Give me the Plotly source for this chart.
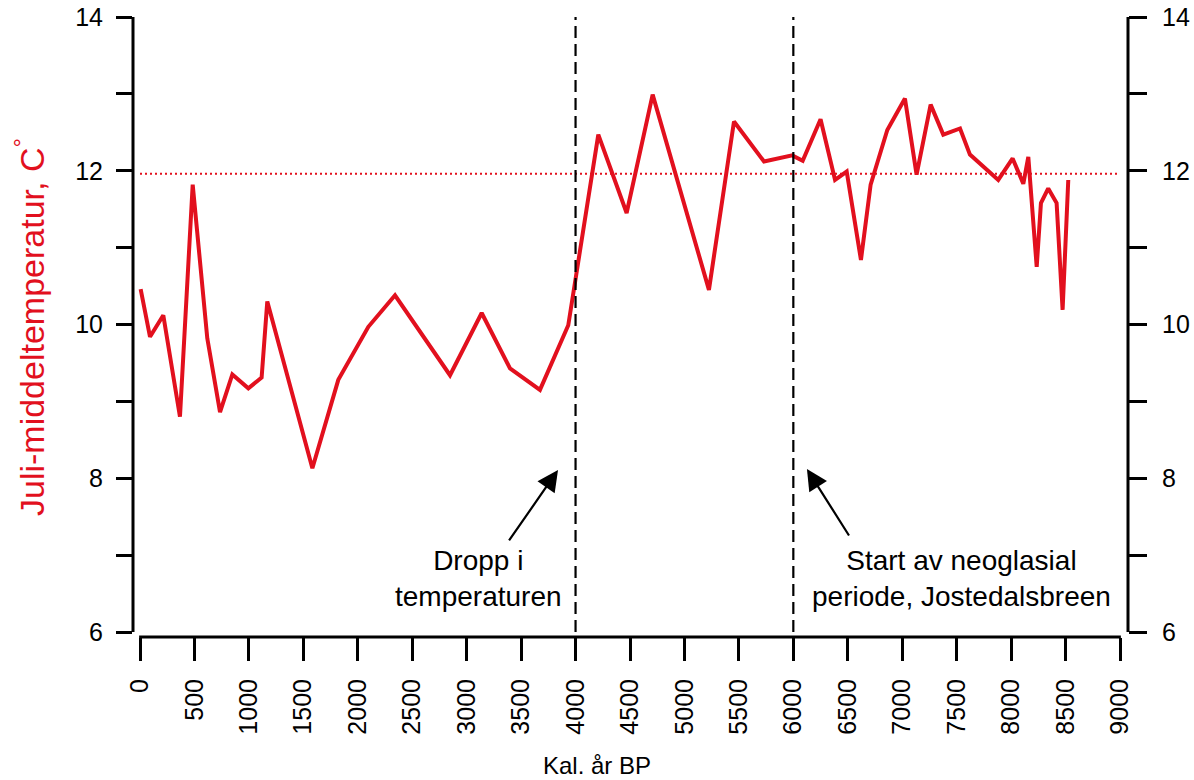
import plotly.graph_objects as go

# Calibrated years BP and reconstructed July mean temperature (°C)
years_bp = [6, 92, 214, 367, 484, 618, 735, 848, 995, 1117, 1169, 1583, 1821, 2097,
            2342, 2847, 3138, 3398, 3673, 3933, 4209, 4469, 4708, 5225, 5455, 5731,
            5990, 6086, 6250, 6383, 6490, 6621, 6710, 6863, 7025, 7132, 7261, 7377,
            7531, 7622, 7882, 8014, 8112, 8158, 8235, 8274, 8341, 8418, 8473, 8525]
july_temp = [10.46, 9.84, 10.12, 8.80, 11.82, 9.82, 8.86, 9.35, 9.17, 9.31, 10.30,
             8.13, 9.28, 9.97, 10.38, 9.34, 10.15, 9.43, 9.15, 9.99, 12.47, 11.45,
             12.99, 10.45, 12.64, 12.12, 12.20, 12.13, 12.67, 11.88, 11.99, 10.84,
             11.82, 12.53, 12.94, 11.95, 12.86, 12.47, 12.55, 12.21, 11.88, 12.16,
             11.83, 12.18, 10.75, 11.58, 11.77, 11.58, 10.19, 11.88]

reference_temp = 11.96          # dotted reference level
event_years = [4000, 6000]      # dashed markers
x_ticks = list(range(0, 9001, 500))
y_ticks = list(range(6, 15))
y_ticktext = [str(v) if v % 2 == 0 else "" for v in y_ticks]

RED = "#E2101E"
FONT = "Liberation Sans, Arial, sans-serif"
X_RANGE = [-64.3, 9073.5]
Y_RANGE = [5.935, 14.0]

fig = go.Figure()
fig.add_trace(go.Scatter(x=years_bp, y=july_temp, mode="lines",
                         line=dict(color=RED, width=4), hoverinfo="x+y",
                         showlegend=False))
# empty trace so the right-hand axis is drawn
fig.add_trace(go.Scatter(x=[None], y=[None], yaxis="y2", showlegend=False,
                         hoverinfo="skip"))

shapes = []
# dotted reference line
shapes.append(dict(type="line", xref="x", yref="y", x0=0, x1=9000,
                   y0=reference_temp, y1=reference_temp,
                   line=dict(color=RED, width=2, dash="2px,3px")))
# dashed event lines
for yr in event_years:
    shapes.append(dict(type="line", xref="x", yref="y", x0=yr, x1=yr,
                       y0=6, y1=14.03, line=dict(color="black", width=2.2, dash="12px,6px")))
# axis lines
shapes.append(dict(type="line", xref="paper", yref="y", x0=0, x1=0, y0=6, y1=14.02,
                   line=dict(color="black", width=3)))
shapes.append(dict(type="line", xref="paper", yref="y", x0=1, x1=1, y0=6, y1=14.02,
                   line=dict(color="black", width=3)))
shapes.append(dict(type="line", xref="x", yref="paper", x0=-8, x1=9008, y0=0, y1=0,
                   line=dict(color="black", width=3)))

annotations = [
    dict(x=3113, y=6.69, xref="x", yref="y", text="Dropp i<br>temperaturen",
         showarrow=False, align="center", xanchor="center", yanchor="middle",
         font=dict(family=FONT, size=28, color="black")),
    dict(x=7546, y=6.69, xref="x", yref="y",
         text="Start av neoglasial<br>periode, Jostedalsbreen",
         showarrow=False, align="center", xanchor="center", yanchor="middle",
         font=dict(family=FONT, size=28, color="black")),
    dict(x=3839, y=8.107, ax=3380, ay=7.171, xref="x", yref="y", axref="x", ayref="y",
         text="", showarrow=True, arrowhead=2, arrowsize=1.9, arrowwidth=2.2,
         arrowcolor="black"),
    dict(x=6125, y=8.12, ax=6520, ay=7.236, xref="x", yref="y", axref="x", ayref="y",
         text="", showarrow=True, arrowhead=2, arrowsize=1.9, arrowwidth=2.2,
         arrowcolor="black"),
    dict(x=-0.1045, y=0.5, xref="paper", yref="paper", textangle=-90,
         text="Juli-middeltemperatur, C<sup>°</sup>", showarrow=False,
         xanchor="center", yanchor="middle",
         font=dict(family=FONT, size=34, color=RED)),
    dict(x=0.4663, y=-0.2065, xref="paper", yref="paper", text="Kal. år BP",
         showarrow=False, xanchor="center", yanchor="middle",
         font=dict(family=FONT, size=24, color="black")),
]

tick_font = dict(family=FONT, size=25, color="black")
fig.update_layout(
    width=1194, height=780,
    margin=dict(l=133, r=66, t=17, b=143, pad=0, autoexpand=False),
    paper_bgcolor="white", plot_bgcolor="white",
    font=dict(family=FONT, color="black"),
    xaxis=dict(range=X_RANGE, tickvals=x_ticks, ticktext=[str(v) for v in x_ticks],
               tickangle=-90, ticks="outside", ticklen=23, tickwidth=3,
               tickcolor="black", showgrid=False, zeroline=False, showline=False,
               tickfont=tick_font, ticklabelstandoff=8, automargin=False),
    yaxis=dict(range=Y_RANGE, tickvals=y_ticks, ticktext=y_ticktext, ticks="outside",
               ticklen=16, tickwidth=3, tickcolor="black", showgrid=False,
               zeroline=False, showline=False, tickfont=tick_font,
               ticklabelstandoff=8, automargin=False),
    yaxis2=dict(range=Y_RANGE, overlaying="y", side="right", tickvals=y_ticks,
                ticktext=y_ticktext, ticks="outside", ticklen=18, tickwidth=3,
                tickcolor="black", showgrid=False, zeroline=False, showline=False,
                tickfont=tick_font, ticklabelstandoff=10, automargin=False),
    shapes=shapes,
    annotations=annotations,
)

fig.write_html("out.html")
